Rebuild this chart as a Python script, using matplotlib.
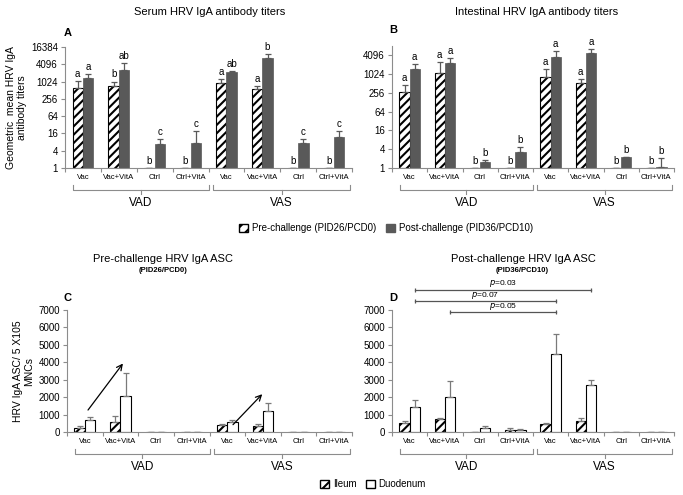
import numpy as np
import matplotlib
matplotlib.use('Agg')
import matplotlib.pyplot as plt
import matplotlib.transforms as mtransforms
from matplotlib.patches import Patch

plt.rcParams['font.family'] = ['Liberation Sans', 'DejaVu Sans']
plt.rcParams['hatch.linewidth'] = 1.5

# ---- data -------------------------------------------------------------
cats = ['Vac', 'Vac+VitA', 'Ctrl', 'Ctrl+VitA'] * 2
groups = ['VAD', 'VAS']

# A: serum HRV IgA titers (geometric mean, upper error = top of whisker)
serum_pre = [600, 690, 1, 1, 900, 572, 1, 1]
serum_pre_hi = [1100, 1024, 1, 1, 1260, 690, 1, 1]
serum_post = [1370, 2650, 6.8, 7.3, 2150, 6700, 7.7, 11.8]
serum_post_hi = [1880, 4500, 10, 19, 2300, 9200, 10, 20]
serum_pre_lbl = ['a', 'b', 'b', 'b', 'a', 'a', 'b', 'b']
serum_post_lbl = ['a', 'ab', 'c', 'c', 'ab', 'b', 'c', 'c']

# B: intestinal HRV IgA titers
intest_pre = [265, 1100, 1, 1, 820, 540, 1, 1]
intest_pre_hi = [445, 2480, 1, 1, 1520, 725, 1, 1]
intest_post = [1480, 2420, 1.6, 3.2, 3600, 4800, 2.2, 1.1]
intest_post_hi = [2200, 3330, 1.85, 4.8, 5700, 6650, 2.3, 2.05]
intest_pre_lbl = ['a', 'a', 'b', 'b', 'a', 'a', 'b', 'b']
intest_post_lbl = ['a', 'a', 'b', 'b', 'a', 'a', 'b', 'b']

# C: pre-challenge IgA ASC
ileum_pre = [230, 570, 5, 10, 400, 325, 5, 5]
ileum_pre_hi = [340, 900, 5, 10, 480, 460, 5, 5]
duod_pre = [670, 2040, 10, 10, 550, 1180, 5, 10]
duod_pre_hi = [860, 3380, 10, 20, 690, 1660, 5, 10]
arrows_c = [((0.09, 1260), (1.07, 3930)), ((4.16, 420), (4.98, 2170))]

# D: post-challenge IgA ASC
ileum_post = [540, 730, 20, 130, 480, 615, 10, 5]
ileum_post_hi = [630, 825, 20, 250, 540, 825, 10, 5]
duod_post = [1440, 2015, 230, 130, 4470, 2670, 15, 10]
duod_post_hi = [1820, 2920, 360, 150, 5600, 3010, 15, 10]
pvals_d = [('0.03', 0, 5, 8150), ('0.07', 0, 4, 7500), ('0.05', 1, 4, 6860)]

W, H = 683, 495
fig = plt.figure(figsize=(W / 100, H / 100), dpi=100)

AXC = '#8c8c8c'
DARK = '#595959'
bw = 0.29
x = np.arange(8)


def px_axes(left, top, right, bottom):
    return fig.add_axes([left / W, 1 - bottom / H, (right - left) / W, (bottom - top) / H])


def style(ax, base_px):
    for s in ['top', 'right']:
        ax.spines[s].set_visible(False)
    for s in ['left', 'bottom']:
        ax.spines[s].set_color(AXC)
        ax.spines[s].set_linewidth(0.8)
    ax.set_xlim(-0.5, 7.5)
    ax.set_xticks(x)
    ax.set_xticklabels(cats, fontsize=5.5)
    ax.set_xticks(np.arange(-0.5, 8, 1), minor=True)
    ax.tick_params(axis='x', which='major', length=0, pad=4.5)
    ax.tick_params(axis='x', which='minor', length=3, color=AXC, width=0.8)
    ax.tick_params(axis='y', which='major', length=3, color=AXC, width=0.8,
                   labelsize=7, pad=2)
    ax.tick_params(axis='y', which='minor', length=0)
    # group brackets under the category labels
    tr = mtransforms.blended_transform_factory(ax.transData, fig.transFigure)
    yb = 1 - (base_px + 22) / H
    up = 5 / H
    dn = 3.5 / H
    for (x0, x1), g in zip([(-0.28, 3.5), (3.62, 7.45)], groups):
        xm = (x0 + x1) / 2
        ax.plot([x0, x0, x1, x1], [yb + up, yb, yb, yb + up], color=AXC,
                lw=0.8, transform=tr, clip_on=False)
        ax.plot([xm, xm], [yb, yb - dn], color=AXC, lw=0.8, transform=tr,
                clip_on=False)
        ax.text(xm, 1 - (base_px + 35) / H, g, transform=tr, ha='center',
                va='center', fontsize=8.5)


def titer_panel(ax, pre, pre_hi, post, post_hi, pre_lbl, post_lbl, top):
    ax.set_yscale('log', base=2)
    ax.set_ylim(1, top)
    pre = np.array(pre, float)
    post = np.array(post, float)
    ax.bar(x - bw / 2, pre - 1, bw, bottom=1, color='white', edgecolor='black',
           hatch='////', linewidth=0.8)
    ax.bar(x + bw / 2, post - 1, bw, bottom=1, color=DARK, edgecolor=DARK,
           linewidth=0.5)
    ax.errorbar(x - bw / 2, pre, yerr=[np.zeros(8), np.array(pre_hi) - pre],
                fmt='none', ecolor=DARK, elinewidth=0.9, capsize=2.2, capthick=0.9)
    ax.errorbar(x + bw / 2, post, yerr=[np.zeros(8), np.array(post_hi) - post],
                fmt='none', ecolor=DARK, elinewidth=0.9, capsize=2.2, capthick=0.9)
    for i in range(8):
        ax.annotate(pre_lbl[i], (x[i] - bw / 2, pre_hi[i]), xytext=(0, 1.5),
                    textcoords='offset points', ha='center', va='bottom', fontsize=7)
        ax.annotate(post_lbl[i], (x[i] + bw / 2, post_hi[i]), xytext=(0, 1.5),
                    textcoords='offset points', ha='center', va='bottom', fontsize=7)


def asc_panel(ax, ile, ile_hi, duo, duo_hi):
    ax.set_ylim(0, 7000)
    ax.set_yticks(np.arange(0, 7001, 1000))
    ile = np.array(ile, float)
    duo = np.array(duo, float)
    ax.bar(x - bw / 2, ile, bw, color='white', edgecolor='black', hatch='////',
           linewidth=0.8)
    ax.bar(x + bw / 2, duo, bw, color='white', edgecolor='black', linewidth=0.8)
    ax.errorbar(x - bw / 2, ile, yerr=[np.zeros(8), np.array(ile_hi) - ile],
                fmt='none', ecolor='#7a7a7a', elinewidth=0.9, capsize=2.2, capthick=0.9)
    ax.errorbar(x + bw / 2, duo, yerr=[np.zeros(8), np.array(duo_hi) - duo],
                fmt='none', ecolor='#7a7a7a', elinewidth=0.9, capsize=2.2, capthick=0.9)


# ---- panel A ----------------------------------------------------------
axA = px_axes(65, 47, 352, 168)
titer_panel(axA, serum_pre, serum_pre_hi, serum_post, serum_post_hi,
            serum_pre_lbl, serum_post_lbl, 16384)
axA.set_yticks([4 ** k for k in range(8)])
axA.set_yticklabels([str(4 ** k) for k in range(8)])
style(axA, 168)
axA.set_ylabel('Geometric  mean HRV IgA\nantibody titers', fontsize=7.5,
               labelpad=3, linespacing=1.1)
fig.text(210 / W, 1 - 12 / H, 'Serum HRV IgA antibody titers', ha='center',
         va='center', fontsize=8)
fig.text(64 / W, 1 - 33 / H, 'A', fontsize=8, fontweight='bold', va='center')

# ---- panel B ----------------------------------------------------------
axB = px_axes(392, 46, 674, 168)
titer_panel(axB, intest_pre, intest_pre_hi, intest_post, intest_post_hi,
            intest_pre_lbl, intest_post_lbl, 8192)
axB.set_yticks([4 ** k for k in range(7)])
axB.set_yticklabels([str(4 ** k) for k in range(7)])
style(axB, 168)
fig.text(537 / W, 1 - 12 / H, 'Intestinal HRV IgA antibody titers', ha='center',
         va='center', fontsize=8)
fig.text(389 / W, 1 - 30 / H, 'B', fontsize=8, fontweight='bold', va='center')

fig.legend(handles=[Patch(facecolor='white', edgecolor='black', hatch='///',
                          label='Pre-challenge (PID26/PCD0)'),
                    Patch(facecolor=DARK, edgecolor=DARK,
                          label='Post-challenge (PID36/PCD10)')],
           loc='center', bbox_to_anchor=(386 / W, 1 - 228 / H), ncol=2,
           frameon=False, fontsize=7, handlelength=0.9, handleheight=0.9,
           handletextpad=0.4, columnspacing=1.0)

# ---- panel C ----------------------------------------------------------
axC = px_axes(67, 310, 352, 432)
asc_panel(axC, ileum_pre, ileum_pre_hi, duod_pre, duod_pre_hi)
style(axC, 432)
axC.set_ylabel('HRV IgA ASC/ 5 X105\nMNCs', fontsize=7.5, labelpad=3,
               linespacing=1.1)
for (x0, y0), (x1, y1) in arrows_c:
    axC.annotate('', xy=(x1, y1), xytext=(x0, y0),
                 arrowprops=dict(arrowstyle='->', color='black', lw=0.9,
                                 shrinkA=0, shrinkB=0))
fig.text(163 / W, 1 - 259 / H, 'Pre-challenge HRV IgA ASC', ha='center',
         va='center', fontsize=8)
fig.text(163 / W, 1 - 270 / H, '(PID26/PCD0)', ha='center', va='center',
         fontsize=5.5, fontweight='bold')
fig.text(64 / W, 1 - 298 / H, 'C', fontsize=8, fontweight='bold', va='center')

# ---- panel D ----------------------------------------------------------
axD = px_axes(392, 310, 674, 432)
asc_panel(axD, ileum_post, ileum_post_hi, duod_post, duod_post_hi)
style(axD, 432)
for p, i0, i1, yv in pvals_d:
    xa, xb = x[i0] + bw / 2, x[i1] + bw / 2
    axD.plot([xa, xb], [yv, yv], color='#555555', lw=0.9, clip_on=False)
    axD.plot([xa, xb], [yv, yv], ls='none', marker='|', ms=3.5, mew=0.9,
             color='#555555', clip_on=False)
    axD.annotate(f'$p$=' + p, ((xa + xb) / 2, yv), xytext=(0, 0.5),
                 textcoords='offset points', ha='center', va='bottom',
                 fontsize=6, annotation_clip=False)
fig.text(523 / W, 1 - 259 / H, 'Post-challenge HRV IgA ASC', ha='center',
         va='center', fontsize=8)
fig.text(522 / W, 1 - 270 / H, '(PID36/PCD10)', ha='center', va='center',
         fontsize=5.5, fontweight='bold')
fig.text(389 / W, 1 - 298 / H, 'D', fontsize=8, fontweight='bold', va='center')

fig.legend(handles=[Patch(facecolor='white', edgecolor='black', hatch='///',
                          label='Ileum'),
                    Patch(facecolor='white', edgecolor='black', label='Duodenum')],
           loc='center', bbox_to_anchor=(373 / W, 1 - 484 / H), ncol=2,
           frameon=False, fontsize=7, handlelength=0.9, handleheight=0.9,
           handletextpad=0.4, columnspacing=1.0)

fig.savefig('out.png', dpi=100)
